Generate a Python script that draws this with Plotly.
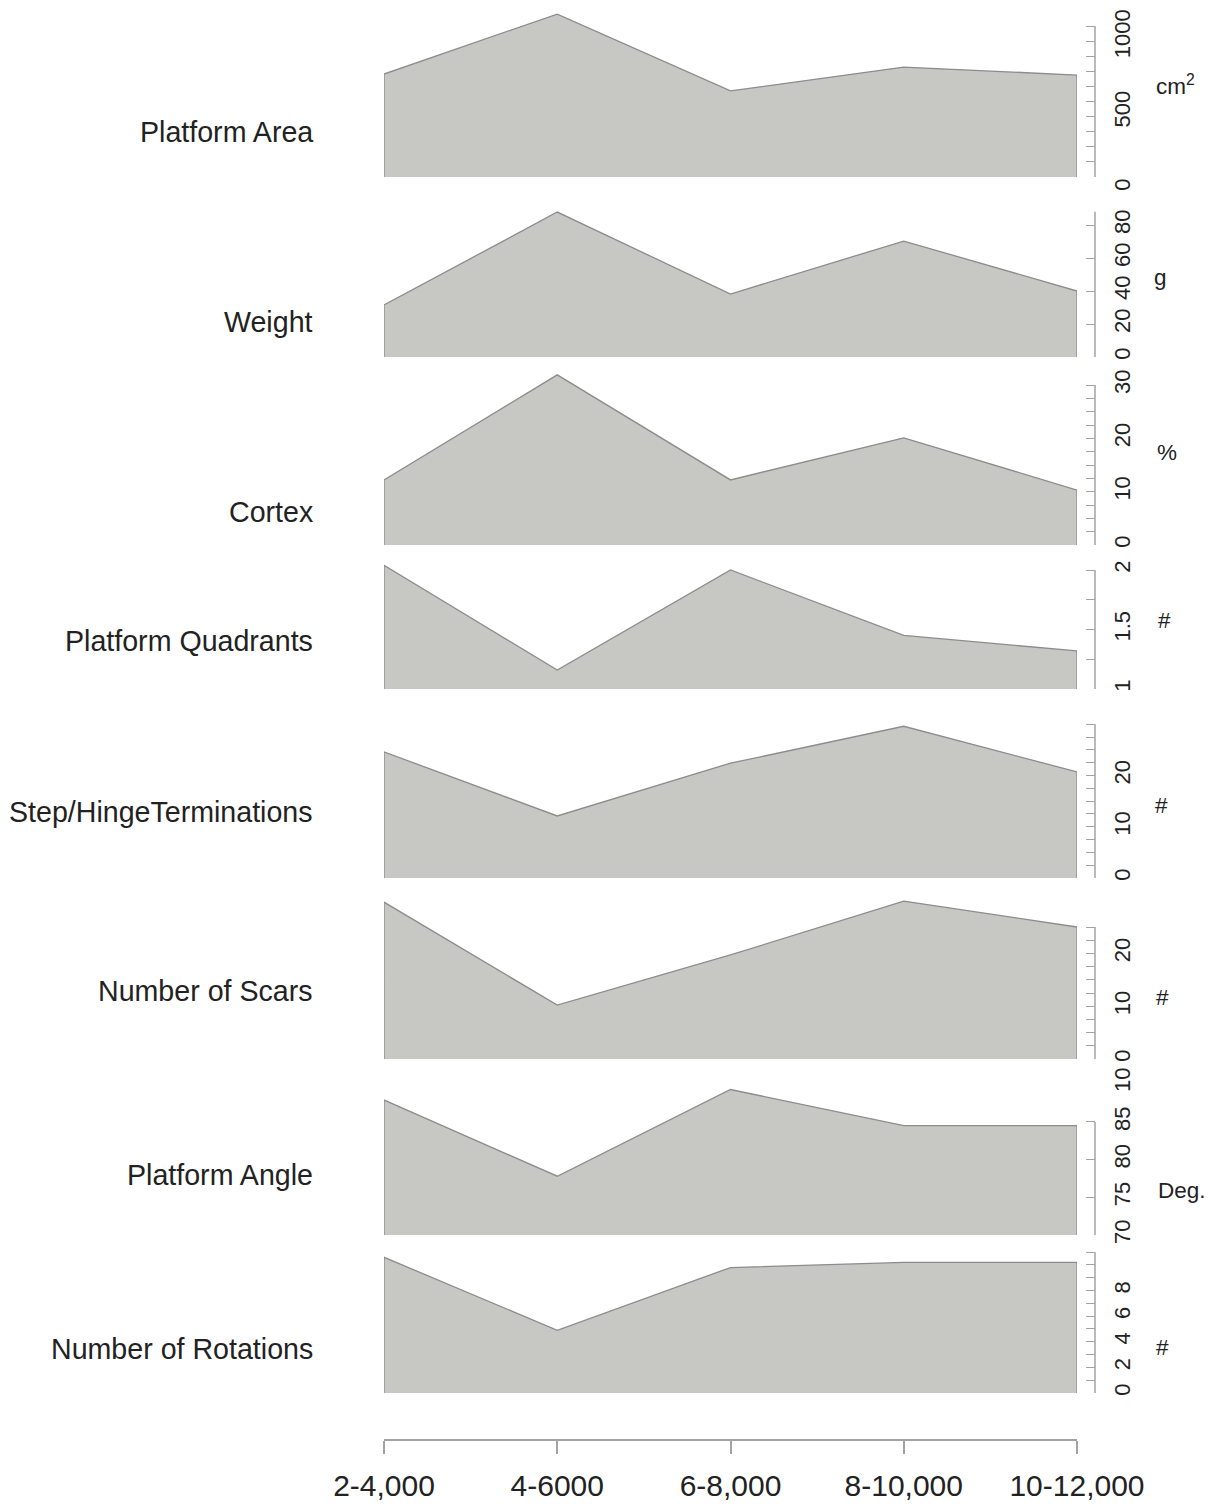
import plotly.graph_objects as go

# categories along the bottom (years BP)
periods = ["2-4,000", "4-6000", "6-8,000", "8-10,000", "10-12,000"]

# series values, one per panel
platform_area = [682, 1079, 570, 728, 675]
weight = [31.5, 87.9, 38.2, 70.3, 40.0]
cortex = [12.2, 31.9, 12.2, 20.1, 10.3]
platform_quadrants = [2.04, 1.16, 2.0, 1.45, 1.32]
step_hinge = [24.6, 12.1, 22.4, 29.6, 20.7]
num_scars = [29.7, 10.2, 19.7, 29.9, 25.0]
platform_angle = [87.9, 77.8, 89.3, 84.5, 84.5]
num_rotations = [10.6, 4.9, 9.8, 10.2, 10.2]

names = ["Platform Area", "Weight", "Cortex", "Platform Quadrants",
         "Step/HingeTerminations", "Number of Scars", "Platform Angle", "Number of Rotations"]
units = ["cm<sup>2</sup>", "g", "%", "#", "#", "#", "Deg.", "#"]
series = [platform_area, weight, cortex, platform_quadrants,
          step_hinge, num_scars, platform_angle, num_rotations]

# y tick values and which ones get labels
tick_vals = [
    list(range(0, 1001, 100)),
    [0, 20, 40, 60, 80],
    [i * 2.5 for i in range(13)],
    [1, 1.25, 1.5, 1.75, 2],
    [i * 2.5 for i in range(13)],
    [i * 2.5 for i in range(11)],
    [70, 75, 80, 85],
    list(range(0, 12)),
]
tick_labels = [
    [0, 500, 1000],
    [0, 20, 40, 60, 80],
    [0, 10, 20, 30],
    [1, 1.5, 2],
    [0, 10, 20],
    [0, 10, 20],
    [70, 75, 80, 85],
    [0, 2, 4, 6, 8],
]

# layout of the panels, in page pixels (bottom, top) and axis ranges
W, H = 1215, 1506
OFF = 8  # the page body margin shifts the figure by this much
panel_px = [(177, 10), (357, 200), (545, 365), (689, 560),
            (878, 715), (1059, 895), (1235, 1085), (1393, 1245)]
ranges = [(0, 1106), (0, 95.2), (0, 33.75), (1, 2.084),
          (0, 31.8), (0, 31.06), (70, 89.9), (0, 11.56)]
axis_line_top = [1000, 88, 30, 2, 30, 25, 85, 11]
label_shift = [11, 0, 0, 0, 0, 0, 0, 0]
label_y = [132, 322, 512, 641, 812, 991, 1175, 1349]
unit_pos = [(1175, 85), (1160, 278), (1167, 453), (1164, 620),
            (1161, 805), (1162, 997), (1182, 1190), (1162, 1347)]


def px_x(x):
    return (x - OFF) / W


def px_y(y):
    return (H - (y - OFF)) / H


FONT = "Liberation Sans, Arial, sans-serif"
FILL = "#c7c7c3"
EDGE = "#8c8c8c"
AXIS = "#a3a3a3"
TXT = "#222"
x_axis_px = 1095

fig = go.Figure()
layout = dict(
    width=W, height=H, margin=dict(l=0, r=0, t=0, b=0, autoexpand=False),
    paper_bgcolor="white", plot_bgcolor="rgba(0,0,0,0)",
    showlegend=False, font=dict(family=FONT, color=TXT),
    xaxis=dict(type="category", range=[0, 4], domain=[px_x(384), px_x(1077)],
               anchor="free", position=px_y(1440), automargin=False,
               showline=True, linecolor=AXIS, linewidth=1.5,
               ticks="outside", ticklen=13, tickcolor=AXIS, tickwidth=1.5,
               ticklabelstandoff=6,
               tickfont=dict(size=30, family=FONT, color=TXT),
               showgrid=False, zeroline=False),
)
shapes = []
annotations = []

for i, vals in enumerate(series):
    n = i + 1
    yname = "y" if n == 1 else f"y{n}"
    lo, hi = ranges[i]
    # closed polygon down to the axis base
    xs = [periods[0]] + periods + [periods[-1]]
    ys = [lo] + vals + [lo]
    fig.add_trace(go.Scatter(x=xs, y=ys, mode="lines", fill="toself",
                             fillcolor=FILL, line=dict(color=EDGE, width=1.3),
                             xaxis="x", yaxis=yname, hoverinfo="skip"))
    bottom, top = panel_px[i]
    labelled = set(tick_labels[i])
    layout[f"yaxis{n}" if n > 1 else "yaxis"] = dict(
        domain=[px_y(bottom), px_y(top)], range=[lo, hi],
        side="right", anchor="free", position=px_x(x_axis_px), automargin=False,
        showline=False, showgrid=False, zeroline=False,
        ticks="inside", ticklen=9, tickcolor=AXIS, tickwidth=1.3,
        tickvals=tick_vals[i],
        ticktext=[(f"{v:g}" if v in labelled else "") for v in tick_vals[i]],
        tickangle=-90, ticklabelstandoff=12, ticklabeloverflow="allow",
        ticklabelshift=label_shift[i],
        tickfont=dict(size=22, family=FONT, color=TXT),
    )
    shapes.append(dict(type="line", xref="paper", yref=yname,
                       x0=px_x(x_axis_px), x1=px_x(x_axis_px),
                       y0=tick_vals[i][0], y1=axis_line_top[i],
                       line=dict(color=AXIS, width=1.5)))
    annotations.append(dict(text=names[i], xref="paper", yref="paper",
                            x=px_x(315), y=px_y(label_y[i]),
                            xanchor="right", yanchor="middle", showarrow=False,
                            font=dict(size=28.6, family=FONT, color=TXT)))
    ux, uy = unit_pos[i]
    annotations.append(dict(text=units[i], xref="paper", yref="paper",
                            x=px_x(ux), y=px_y(uy), xanchor="center", yanchor="middle",
                            showarrow=False, font=dict(size=22.5, family=FONT, color=TXT)))

# stray label that sits at the top of the Platform Angle axis
annotations.append(dict(text="10", xref="paper", yref="paper", x=px_x(1122), y=px_y(1080),
                        xanchor="center", yanchor="middle",
                        textangle=-90, showarrow=False,
                        font=dict(size=22, family=FONT, color=TXT)))

layout["shapes"] = shapes
layout["annotations"] = annotations
fig.update_layout(**layout)
fig.write_html("out.html")
